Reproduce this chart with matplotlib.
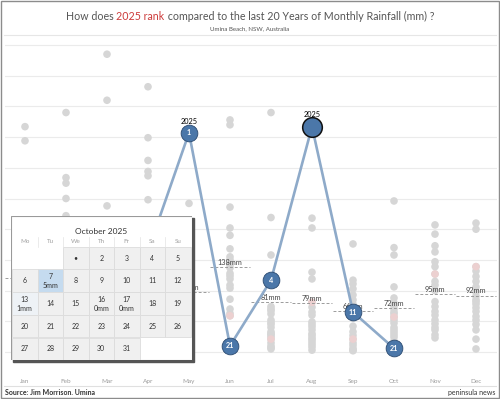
import matplotlib
matplotlib.use('Agg')
import matplotlib.pyplot as plt
import numpy as np
import datetime
from matplotlib.patches import Rectangle
from matplotlib.lines import Line2D

plt.rcParams['font.family'] = ['Lato', 'DejaVu Sans']

# ---------------- data ----------------
months = ['Jan', 'Feb', 'Mar', 'Apr', 'May', 'Jun', 'Jul', 'Aug', 'Sep', 'Oct', 'Nov', 'Dec']

jan_mm = [367, 344, 210, 180, 160, 150, 140, 128, 120, 110, 100, 92, 85, 75, 66, 58, 48, 40, 30, 20]
feb_mm = [390, 284, 275, 250, 222, 200, 185, 170, 160, 150, 140, 130, 118, 105, 95, 80, 70, 60, 45, 30]
mar_mm = [485, 410, 238, 215, 200, 180, 165, 150, 140, 130, 120, 110, 100, 90, 80, 70, 60, 50, 40, 25]
apr_mm = [432, 349, 312, 294, 287, 248, 210, 190, 170, 150, 130, 120, 110, 95, 85, 75, 60, 45, 35, 20]
may_mm = [242, 215, 190, 170, 150, 135, 120, 110, 100, 95, 90, 80, 70, 60, 50, 45, 35, 25, 18, 12]
jun_mm = [378, 370, 236, 202, 190, 168, 155, 150, 145, 142, 137, 128, 124, 119, 109, 104, 86, 70, 63, 59]
jul_mm = [390, 219, 158, 74, 70, 67, 62, 52, 48, 45, 40, 33, 30, 28, 25, 21, 15, 10, 7, 5]
aug_mm = [218, 202, 130, 119, 81, 73, 65, 60, 49, 45, 41, 36, 30, 27, 23, 20, 16, 12, 8, 3]
sep_mm = [176, 117, 111, 103, 93, 85, 78, 74, 70, 68, 55, 42, 33, 27, 21, 15, 11, 6, 3, 2]
oct_mm = [246, 170, 158, 106, 88, 80, 75, 70, 65, 62, 57, 52, 47, 40, 36, 32, 28, 24, 18, 12]
nov_mm = [207, 192, 173, 163, 147, 139, 127, 115, 109, 100, 82, 74, 66, 60, 52, 46, 40, 36, 28, 23]
dec_mm = [210, 200, 139, 132, 123, 115, 106, 98, 91, 85, 82, 78, 72, 66, 58, 52, 45, 36, 21, 5]
history = [jan_mm, feb_mm, mar_mm, apr_mm, may_mm, jun_mm, jul_mm, aug_mm, sep_mm, oct_mm, nov_mm, dec_mm]

# previous-year (pink) dots
prev_year_mm = [np.nan, np.nan, np.nan, np.nan, np.nan, 59, 21, 81, 21, 57, 127, 139]

# 2025 rainfall (Jan-Oct)
rain_2025 = [60, 150, 110, 165, 357, 10, 117, 367, 65, 6]
highlight_month = 7  # enlarged marker (Aug)
label_2025_months = [4, 7]

# average lines (value per month) and whether its label is visible (others sit under the calendar)
avg_mm = [120, 130, 150, 110, 97, 138, 81, 79, 66, 72, 95, 92]
avg_label_shown = [False, False, False, False, True, True, True, True, True, True, True, True]

# calendar
cal_year, cal_month = 2025, 10
cal_title = 'October 2025'
weekdays = ['Mo', 'Tu', 'We', 'Th', 'Fr', 'Sa', 'Su']
cal_rain = {7: '5mm', 13: '1mm', 16: '0mm', 17: '0mm'}
cal_days = 31

title_parts = ['How does ', '2025 rank', ' compared to the last 20 Years of Monthly Rainfall (mm) ?']
subtitle = 'Umina Beach, NSW, Australia'
source = 'Source: Jim Morrison. Umina'
brand = 'peninsula news'

# ---------------- figure ----------------
W, H = 500, 399
fig = plt.figure(figsize=(W / 100, H / 100), dpi=100)
fig.patch.set_facecolor('white')

def fx(px):
    return px / W

def fy(py):
    return 1 - py / H

# border and separators
fig.patches.append(Rectangle((fx(1), fy(398)), fx(498), 397 / H, transform=fig.transFigure,
                             fill=False, edgecolor='#8c8c8c', lw=1.0, zorder=10))
fig.lines.append(Line2D([fx(4), fx(496)], [fy(35), fy(35)], transform=fig.transFigure,
                        color='#e6e6e6', lw=0.8))
fig.lines.append(Line2D([fx(4), fx(496)], [fy(386), fy(386)], transform=fig.transFigure,
                        color='#e0e0e0', lw=0.8))

# main axes
pxmm = 0.614
ax = fig.add_axes([fx(4.5), fy(362), 492 / W, (362 - 38) / H])
ax.set_xlim(-0.5, 11.5)
ax.set_ylim(-(362 - 352) / pxmm, (352 - 38) / pxmm)
ax.set_yticks(np.arange(0, 501, 50))
ax.yaxis.grid(True, color='#ebebeb', lw=0.8)
ax.set_axisbelow(True)
for s in ax.spines.values():
    s.set_visible(False)
ax.tick_params(axis='y', left=False, labelleft=False)
ax.set_xticks(range(12))
ax.set_xticklabels(months, fontsize=4.6, color='#9a9a9a')
ax.tick_params(axis='x', length=0, pad=12)

# historical dots
for i, vals in enumerate(history):
    ax.scatter([i] * len(vals), vals, s=30, color='#d6d6d6', edgecolors='none', zorder=2)
ax.scatter(range(12), prev_year_mm, s=30, color='#ecd0d0', edgecolors='none', zorder=2.1)

# average lines
for i, m in enumerate(avg_mm):
    ax.plot([i - 0.49, i + 0.49], [m, m], ls=(0, (3, 2)), color='#9b9b9b', lw=0.7, zorder=3)
    if avg_label_shown[i]:
        ax.annotate(f'{m}mm', (i, m), xytext=(0, 0.8), textcoords='offset points',
                    ha='center', va='bottom', fontsize=5.3, color='#444444', zorder=3)

# 2025 line
x25 = np.arange(len(rain_2025))
ax.plot(x25, rain_2025, color='#8eaac9', lw=1.9, zorder=4, solid_capstyle='round')
for i, v in enumerate(rain_2025):
    rank = 1 + sum(1 for h in history[i] if h > v)
    big = (i == highlight_month)
    ax.scatter([i], [v], s=200 if big else 145, color='#4b77a9',
               edgecolors='#111111' if big else '#2b4a70', linewidths=1.1 if big else 0.6, zorder=5)
    if not big:
        ax.text(i, v, str(rank), ha='center', va='center', fontsize=5.2, color='white',
                fontweight='bold', zorder=6)
    if i in label_2025_months:
        ax.annotate('2025', (i, v), xytext=(0, 6.5 if big else 5.5), textcoords='offset points',
                    ha='center', va='bottom', fontsize=5.3, color='black', zorder=6)

# ---------------- calendar ----------------
cx0, cy0, cw, ch = 11, 216, 181, 144
fig.patches.append(Rectangle((fx(cx0 + 2), fy(cy0 + ch + 2)), cw / W, ch / H,
                             transform=fig.transFigure, color='#555555', zorder=1.5))
cal = fig.add_axes([fx(cx0), fy(cy0 + ch), cw / W, ch / H], zorder=2)
cal.set_xlim(0, cw)
cal.set_ylim(ch, 0)
cal.axis('off')
cal.add_patch(Rectangle((0, 0), cw, ch, facecolor='white', edgecolor='#9a9a9a', lw=0.8))
cal.text(90, 16, cal_title, ha='center', va='center', fontsize=6, color='#333333')
col_w, row_h, col0, row0 = 25.5, 22.7, 1.0, 30.7
for j, wd in enumerate(weekdays):
    cal.text(col0 + col_w * (j + 0.5), 25.5, wd, ha='center', va='center', fontsize=4.5, color='#a0a0a0')
    if j > 0:
        cal.plot([col0 + col_w * j] * 2, [20.5, row0], color='#e3e3e3', lw=0.5)
first_wd = datetime.date(cal_year, cal_month, 1).weekday()
for d in range(1, cal_days + 1):
    pos = first_wd + d - 1
    r, c = divmod(pos, 7)
    x, y = col0 + col_w * c, row0 + row_h * r
    fc = '#f0f0f0'
    if d == 7:
        fc = '#c5dbef'
    elif d == 13:
        fc = '#eef2f6'
    cal.add_patch(Rectangle((x, y), col_w, row_h, facecolor=fc, edgecolor='#dcdcdc', lw=0.6))
    lab = '•' if d == 1 else str(d)
    if d in cal_rain:
        cal.text(x + col_w / 2, y + row_h * 0.32, lab, ha='center', va='center', fontsize=5, color='#333333')
        cal.text(x + col_w / 2, y + row_h * 0.72, cal_rain[d], ha='center', va='center', fontsize=5, color='#333333')
    else:
        cal.text(x + col_w / 2, y + row_h / 2, lab, ha='center', va='center', fontsize=5, color='#333333')

# ---------------- titles ----------------
colors = ['#555555', '#cc3b3b', '#555555']
texts = [fig.text(0, fy(16), t, fontsize=7.7, color=c, va='center', ha='left') for t, c in zip(title_parts, colors)]
fig.canvas.draw()
r = fig.canvas.get_renderer()
widths = [t.get_window_extent(r).width for t in texts]
x = (W - sum(widths)) / 2
for t, w in zip(texts, widths):
    t.set_x(fx(x))
    x += w
fig.text(fx(250), fy(28.5), subtitle, fontsize=4.4, color='#555555', ha='center', va='center')
fig.text(fx(5), fy(392.5), source, fontsize=5, color='#333333', ha='left', va='center', fontweight='bold')
fig.text(fx(495), fy(392.5), brand, fontsize=5, color='#333333', ha='right', va='center')

fig.savefig('out.png', dpi=100)
